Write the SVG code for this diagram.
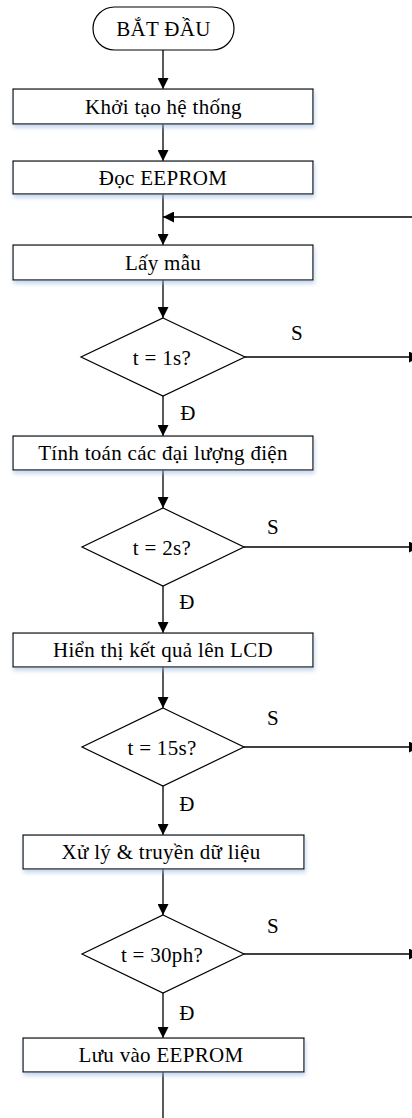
<svg xmlns="http://www.w3.org/2000/svg" width="412" height="1118" viewBox="0 0 412 1118">
<style>
.shape{fill:#fff;stroke:#000;stroke-width:1.2}
.conn{fill:none;stroke:#000;stroke-width:1.3}
text{font-family:"Liberation Serif","Times New Roman",serif;font-size:21px;letter-spacing:0.3px;fill:#000}
.c{text-anchor:middle}
</style>
<defs>
<marker id="ah" markerUnits="userSpaceOnUse" markerWidth="11" markerHeight="11" refX="11" refY="5.5" orient="auto">
<path d="M0,0 L11,5.5 L0,11 z" fill="#000"/>
</marker>
<filter id="sh" x="-10%" y="-30%" width="120%" height="180%">
<feDropShadow dx="1" dy="3" stdDeviation="2" flood-color="#9bb7dc" flood-opacity="0.6"/>
</filter>
</defs>
<rect width="412" height="1118" fill="#fff"/>
<g id="connectors">
<line class="conn" x1="163" y1="50" x2="163" y2="89" marker-end="url(#ah)"/>
<line class="conn" x1="163" y1="124" x2="163" y2="161" marker-end="url(#ah)"/>
<line class="conn" x1="163" y1="194" x2="163" y2="245" marker-end="url(#ah)"/>
<line class="conn" x1="420" y1="217" x2="163" y2="217" marker-end="url(#ah)"/>
<line class="conn" x1="163" y1="280" x2="163" y2="318" marker-end="url(#ah)"/>
<line class="conn" x1="163" y1="396" x2="163" y2="436" marker-end="url(#ah)"/>
<line class="conn" x1="163" y1="470" x2="163" y2="508" marker-end="url(#ah)"/>
<line class="conn" x1="163" y1="586" x2="163" y2="633" marker-end="url(#ah)"/>
<line class="conn" x1="163" y1="667" x2="163" y2="708" marker-end="url(#ah)"/>
<line class="conn" x1="163" y1="786" x2="163" y2="835" marker-end="url(#ah)"/>
<line class="conn" x1="163" y1="869" x2="163" y2="915" marker-end="url(#ah)"/>
<line class="conn" x1="163" y1="993" x2="163" y2="1038" marker-end="url(#ah)"/>
<line class="conn" x1="163" y1="1072" x2="163" y2="1118"/>
<line class="conn" x1="245" y1="357" x2="420" y2="357" marker-end="url(#ah)"/>
<line class="conn" x1="244" y1="547" x2="420" y2="547" marker-end="url(#ah)"/>
<line class="conn" x1="244" y1="747" x2="420" y2="747" marker-end="url(#ah)"/>
<line class="conn" x1="244" y1="954" x2="420" y2="954" marker-end="url(#ah)"/>
<text x="297" y="340" class="c">S</text>
<text x="188" y="420" class="c">Đ</text>
<text x="273" y="534" class="c">S</text>
<text x="187" y="609" class="c">Đ</text>
<text x="273" y="725" class="c">S</text>
<text x="187" y="811" class="c">Đ</text>
<text x="273" y="933" class="c">S</text>
<text x="187" y="1020" class="c">Đ</text>
</g>
<g id="start">
<rect class="shape" x="93" y="7" width="141" height="43" rx="21.5" ry="21.5"/>
<text x="163.5" y="36" class="c">BẮT ĐẦU</text>
</g>
<g id="init">
<rect class="shape" x="13" y="89" width="300" height="35" filter="url(#sh)"/>
<text x="163.5" y="114" class="c">Khởi tạo hệ thống</text>
</g>
<g id="read-eeprom">
<rect class="shape" x="13" y="161" width="300" height="33" filter="url(#sh)"/>
<text x="163" y="185" class="c">Đọc EEPROM</text>
</g>
<g id="sample">
<rect class="shape" x="13" y="245" width="300" height="35" filter="url(#sh)"/>
<text x="163" y="270" class="c">Lấy mẫu</text>
</g>
<g id="d1">
<polygon class="shape" points="163,318 245,357 163,396 81,357"/>
<text x="162" y="365" class="c">t = 1s?</text>
</g>
<g id="calc">
<rect class="shape" x="13" y="436" width="300" height="34" filter="url(#sh)"/>
<text x="163" y="460" class="c">Tính toán các đại lượng điện</text>
</g>
<g id="d2">
<polygon class="shape" points="163,508 244,547 163,586 82,547"/>
<text x="162" y="555" class="c">t = 2s?</text>
</g>
<g id="lcd">
<rect class="shape" x="13" y="633" width="300" height="34" filter="url(#sh)"/>
<text x="163" y="657" class="c">Hiển thị kết quả lên LCD</text>
</g>
<g id="d3">
<polygon class="shape" points="163,708 244,747 163,786 82,747"/>
<text x="162" y="755" class="c">t = 15s?</text>
</g>
<g id="process">
<rect class="shape" x="23" y="835" width="281" height="34" filter="url(#sh)"/>
<text x="161" y="859" class="c">Xử lý &amp; truyền dữ liệu</text>
</g>
<g id="d4">
<polygon class="shape" points="163,915 244,954 163,993 82,954"/>
<text x="162" y="962" class="c">t = 30ph?</text>
</g>
<g id="save">
<rect class="shape" x="23" y="1038" width="281" height="34" filter="url(#sh)"/>
<text x="161" y="1062" class="c">Lưu vào EEPROM</text>
</g>
</svg>
